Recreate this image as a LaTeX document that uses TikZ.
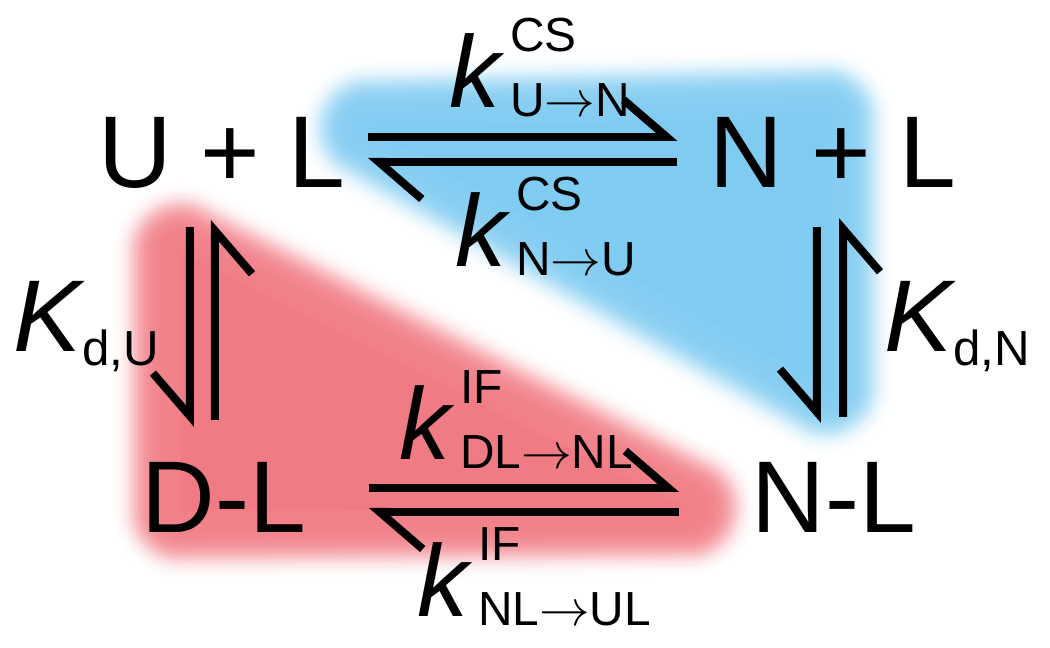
\documentclass[tikz,border=0pt]{standalone}
\usepackage{fontspec}
\setmainfont{Liberation Sans}
\usetikzlibrary{arrows.meta}

\definecolor{csblue}{RGB}{127,203,241}
\definecolor{ifred}{RGB}{241,123,132}

\newcommand{\subsz}{\fontsize{13.6}{14}\selectfont}
\newcommand{\rate}[2]{\textit{k}\kern0.05em\rlap{\raisebox{0.55em}{\subsz #1}}\raisebox{-0.08em}{\subsz #2}}
\newcommand{\Kdis}[1]{\textit{K}\kern-0.03em\raisebox{-0.13em}{\fontsize{14}{15}\selectfont d,#1}}
\newcommand{\tto}{$\rightarrow$}

\begin{document}
\begin{tikzpicture}[x=0.01cm, y=0.01cm,
  font=\fontsize{29}{35}\selectfont,
  species/.style={inner sep=0pt, anchor=base},
  ratelbl/.style={inner sep=0pt, anchor=base west},
  fwd/.style={line width=0.08cm, -{Straight Barb[harpoon, sharp, length=0.43cm, width=0.74cm]}},
  fwdswap/.style={line width=0.08cm, -{Straight Barb[harpoon, swap, sharp, length=0.43cm, width=0.74cm]}},
  glow/.style={line join=round}]
\useasboundingbox (0,0) rectangle (1050,648);

% blurred backgrounds
\fill[csblue] (368,520) -- (826,530) -- (826,262) -- cycle;
\foreach \i in {1,...,40} {
  \pgfmathsetmacro\op{0.01+0.14*sin(\i*4.5)*sin(\i*4.5)}
  \draw[glow, csblue, line width=\i*0.034cm, draw opacity=\op] (368,520) -- (826,530) -- (826,262) -- cycle;
}
\fill[ifred] (181,396) -- (688,140) -- (181,137) -- cycle;
\foreach \i in {1,...,40} {
  \pgfmathsetmacro\op{0.01+0.14*sin(\i*4.5)*sin(\i*4.5)}
  \draw[glow, ifred, line width=\i*0.034cm, draw opacity=\op] (181,396) -- (688,140) -- (181,137) -- cycle;
}

% species
\node[species] (ul) at (222,460) {U + L};
\node[species] (npl) at (833,460) {N + L};
\node[species] (dl) at (224,115) {D-L};
\node[species] (nl) at (834,115) {N-L};

% conformational selection
\draw[fwd] ([xshift=0.22cm, yshift=0.51cm]ul.base east) -- ([xshift=-0.315cm, yshift=0.51cm]npl.base west);
\draw[fwd] ([xshift=-0.315cm, yshift=0.26cm]npl.base west) -- ([xshift=0.22cm, yshift=0.26cm]ul.base east);
% induced fit
\draw[fwd] ([xshift=0.62cm, yshift=0.45cm]dl.base east) -- ([xshift=-0.72cm, yshift=0.45cm]nl.base west);
\draw[fwd] ([xshift=-0.72cm, yshift=0.21cm]nl.base west) -- ([xshift=0.62cm, yshift=0.21cm]dl.base east);
% binding
\draw[fwdswap] ([xshift=-0.32cm, yshift=-0.39cm]ul.base) -- ([xshift=-0.34cm, yshift=1.06cm]dl.base);
\draw[fwdswap] ([xshift=-0.09cm, yshift=1.13cm]dl.base) -- ([xshift=-0.07cm, yshift=-0.32cm]ul.base);
\draw[fwdswap] ([xshift=-0.16cm, yshift=-0.39cm]npl.base) -- ([xshift=-0.17cm, yshift=1.10cm]nl.base);
\draw[fwdswap] ([xshift=0.09cm, yshift=1.16cm]nl.base) -- ([xshift=0.10cm, yshift=-0.30cm]npl.base);

% rate constants
\node[ratelbl] (kun) at (449,540) {\rate{CS}{U\tto N}};
\node[ratelbl] (knu) at (455,381) {\rate{CS}{N\tto U}};
\node[ratelbl] (kdlnl) at (399,188) {\rate{IF}{DL\tto NL}};
\node[ratelbl] (knlul) at (417,31) {\rate{IF}{NL\tto UL}};
\node[ratelbl] (kdu) at (13,296) {\Kdis{U}};
\node[ratelbl] (kdn) at (884,296) {\Kdis{N}};
\end{tikzpicture}
\end{document}
